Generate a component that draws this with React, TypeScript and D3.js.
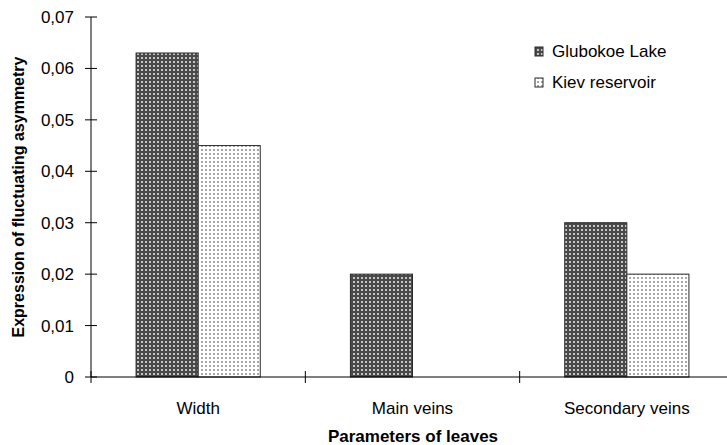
import React from "react";
import * as d3 from "d3";

const categories = ["Width", "Main veins", "Secondary veins"];
const seriesNames = ["Glubokoe Lake", "Kiev reservoir"];
const glubokoe = [0.063, 0.02, 0.03];
const kiev = [0.045, 0, 0.02];
const yTicks = [0, 0.01, 0.02, 0.03, 0.04, 0.05, 0.06, 0.07];

export default function App() {
  const W = 727, H = 445;
  const left = 91, right = 734, top = 17, bottom = 377;
  const x = d3.scaleBand<string>().domain(categories).range([left, right]).paddingInner(0).paddingOuter(0);
  const inner = d3.scaleBand<string>().domain(seriesNames).range([0, x.bandwidth()]).paddingInner(0).paddingOuter(0.726);
  const y = d3.scaleLinear().domain([0, 0.07]).range([bottom, top]);
  const series = [glubokoe, kiev];
  const fills = ["url(#patG)", "url(#patK)"];
  const fmt = (v: number) => (v === 0 ? "0" : d3.format(".2f")(v).replace(".", ","));
  const font = "Liberation Sans, Arial, sans-serif";

  return (
    <svg width={W} height={H} style={{ position: "absolute", left: 0, top: 0, background: "#fff" }} fontFamily={font}>
      <defs>
        <pattern id="patG" width={4} height={4} patternUnits="userSpaceOnUse">
          <rect width={4} height={4} fill="#4a4a4a" />
          <rect x={1} y={1} width={2} height={2} fill="#c4c4c4" />
        </pattern>
        <pattern id="patK" width={4} height={4} patternUnits="userSpaceOnUse">
          <rect width={4} height={4} fill="#ffffff" />
          <rect x={1} y={1} width={2} height={2} fill="#a8a8a8" />
        </pattern>
      </defs>
      <rect width={W} height={H} fill="#fff" />
      {categories.map((c, ci) =>
        series.map((s, si) =>
          s[ci] > 0 ? (
            <rect
              key={c + si}
              x={(x(c) as number) + (inner(seriesNames[si]) as number)}
              y={y(s[ci])}
              width={inner.bandwidth()}
              height={bottom - y(s[ci])}
              fill={fills[si]}
              stroke="#2a2a2a"
              strokeWidth={1}
            />
          ) : null
        )
      )}
      <line x1={left} x2={left} y1={top} y2={bottom} stroke="#000" />
      {yTicks.map((t) => (
        <g key={t}>
          <line x1={left - 6} x2={left + 6} y1={y(t)} y2={y(t)} stroke="#000" />
          <text x={74} y={y(t)} dy="0.35em" textAnchor="end" fontSize={17} fill="#000">
            {fmt(t)}
          </text>
        </g>
      ))}
      <line x1={left} x2={right} y1={bottom} y2={bottom} stroke="#000" />
      {categories.map((c) => (
        <line key={"t" + c} x1={x(c) as number} x2={x(c) as number} y1={bottom - 6} y2={bottom + 6} stroke="#000" />
      ))}
      {categories.map((c) => (
        <text key={"l" + c} x={(x(c) as number) + x.bandwidth() / 2} y={414} textAnchor="middle" fontSize={17} fill="#000">
          {c}
        </text>
      ))}
      <text x={413} y={442} textAnchor="middle" fontSize={17} fontWeight="bold" fill="#000">
        Parameters of leaves
      </text>
      <text transform={`translate(24,197) rotate(-90)`} textAnchor="middle" fontSize={16} fontWeight="bold" fill="#000">
        Expression of fluctuating asymmetry
      </text>
      {seriesNames.map((n, i) => (
        <g key={n}>
          <rect x={535} y={47 + i * 31} width={8} height={9} fill={fills[i]} stroke="#2a2a2a" strokeWidth={1} />
          <text x={552} y={57 + i * 31} fontSize={17} fill="#000">
            {n}
          </text>
        </g>
      ))}
    </svg>
  );
}
